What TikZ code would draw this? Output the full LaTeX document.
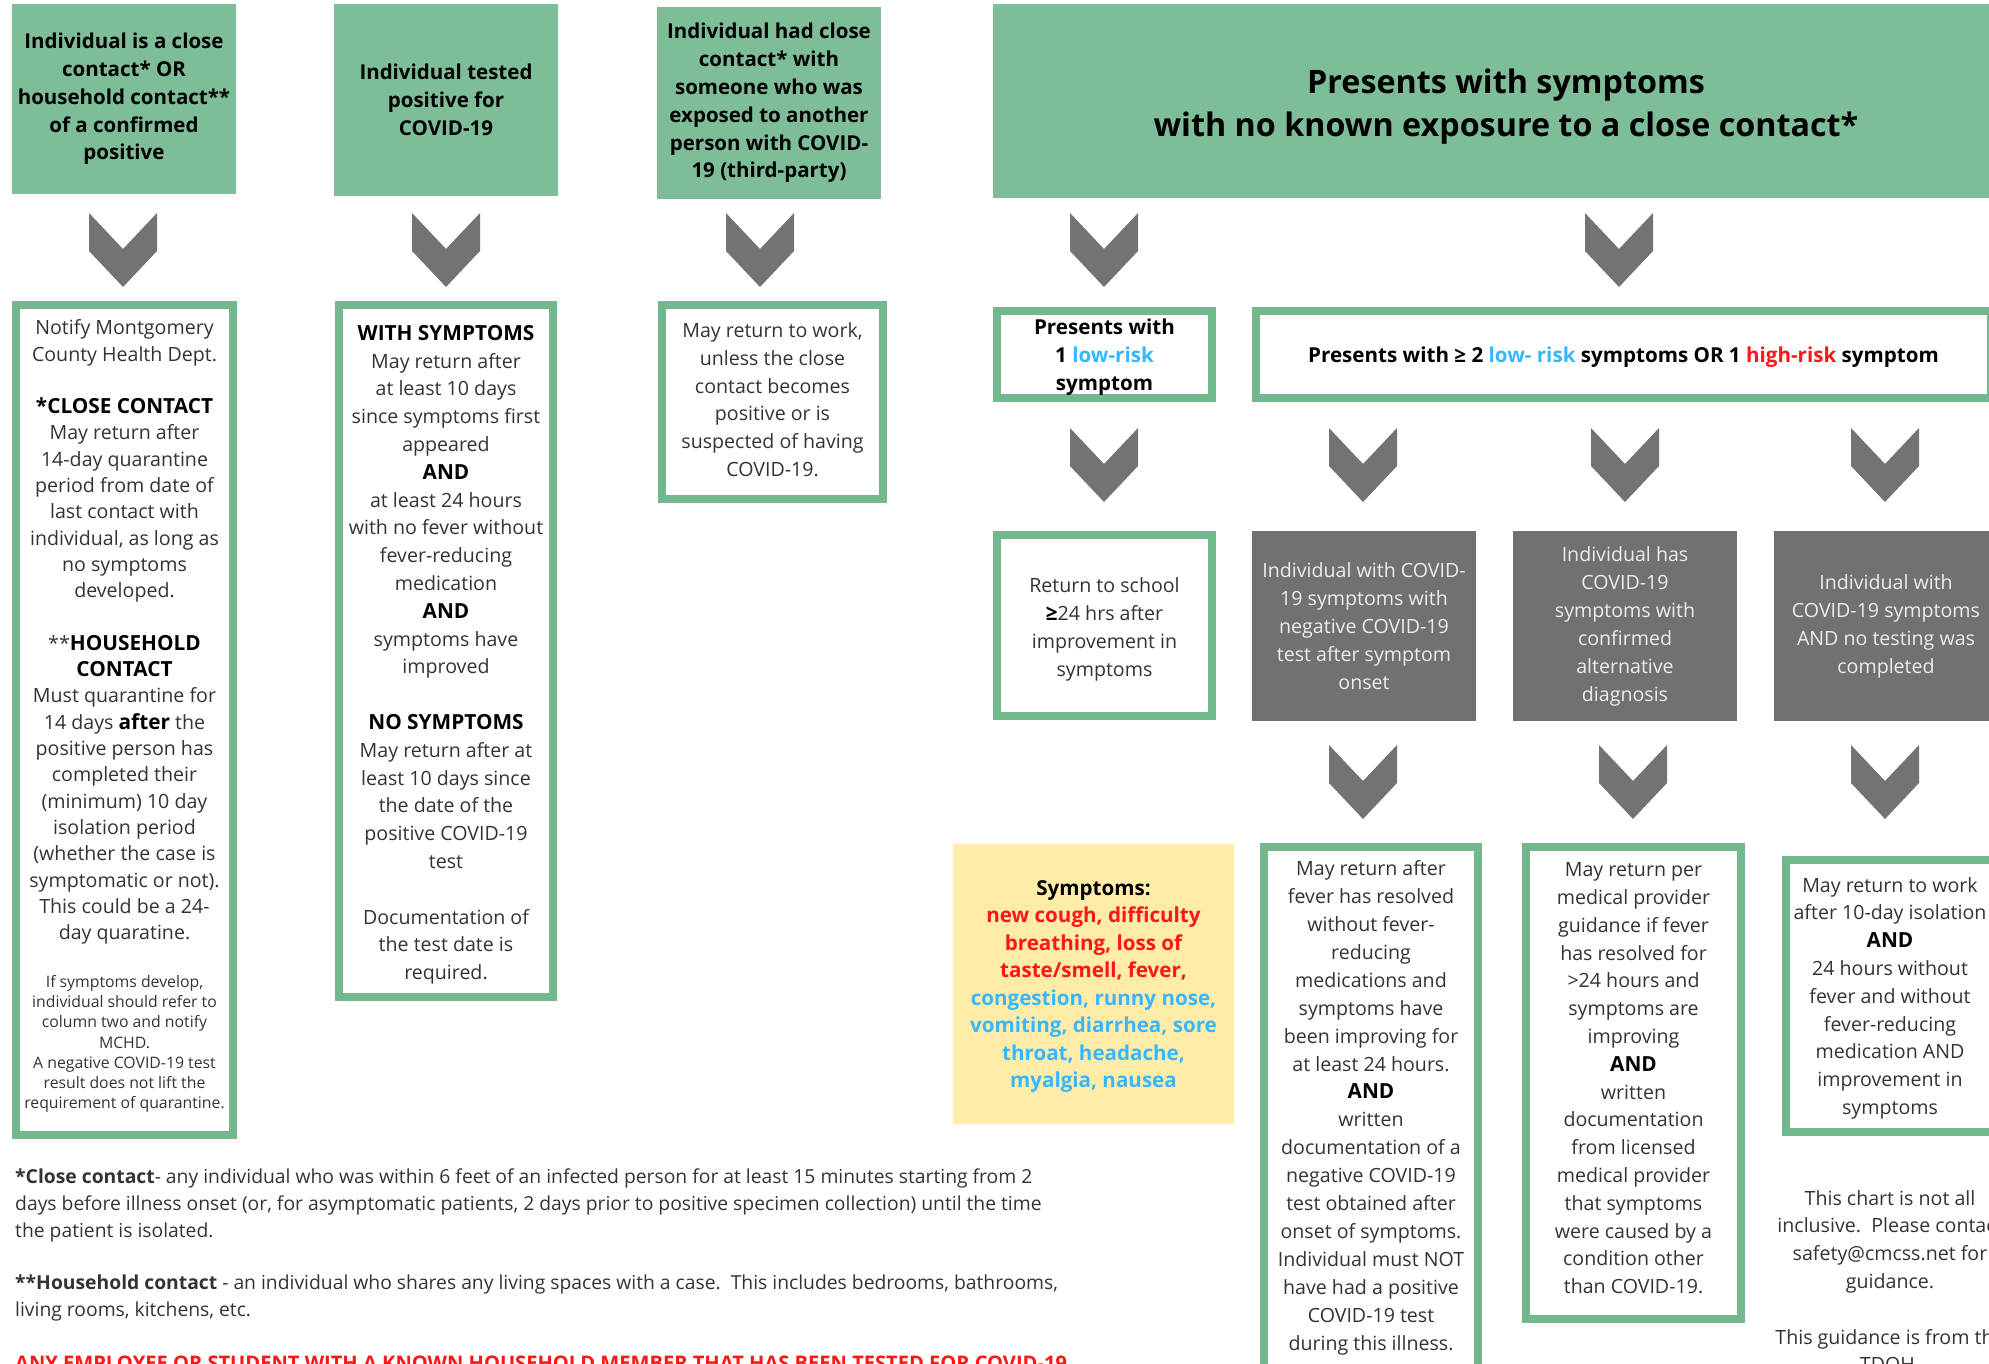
\documentclass[tikz,border=0pt]{standalone}
\usepackage{fontspec}
\setmainfont{Open Sans}
\definecolor{hdrgreen}{HTML}{7DBD98}
\definecolor{brdgreen}{HTML}{72B78D}
\definecolor{chevgrey}{HTML}{737373}
\definecolor{boxgrey}{HTML}{717171}
\definecolor{greytext}{HTML}{EDEDED}
\definecolor{symyellow}{HTML}{FFECA9}
\definecolor{lowblue}{HTML}{38B6FF}
\definecolor{highred}{HTML}{FF1616}
\definecolor{bodytext}{HTML}{333333}
\newcommand{\bx}[1]{{\fontsize{20.8}{27.8}\selectfont\bfseries\color{black}#1}}
\begin{document}
\begin{tikzpicture}[x=1pt,y=-1pt,
  hdr/.style={fill=hdrgreen, inner sep=0pt, align=center, text=black, font=\bfseries\fontsize{20.5}{27.8}\selectfont},
  gbox/.style={draw=brdgreen, line width=8pt, fill=white, inner sep=0pt},
  intext/.style={inner sep=0pt, align=center, text=bodytext, font=\fontsize{19.6}{28}\selectfont},
  boldtext/.style={inner sep=0pt, align=center, text=black, font=\bfseries\fontsize{20.6}{28}\selectfont},
  greybox/.style={fill=boxgrey, inner sep=0pt, align=center, text=greytext, font=\fontsize{19.6}{28}\selectfont, minimum width=224pt, minimum height=190pt},
  body/.style={inner sep=0pt, align=center, anchor=north, text=bodytext, font=\fontsize{19.6}{27.8}\selectfont},
  foot/.style={inner sep=0pt, align=left, anchor=north west, text=bodytext, font=\fontsize{19.3}{27}\selectfont},
  chev/.pic={\fill[chevgrey] (-34,0) -- (0,36) -- (34,0) -- (34,38) -- (0,74) -- (-34,38) -- cycle;}
]
\useasboundingbox (0,0) rectangle (1989,1364);
\clip (0,0) rectangle (1989,1364);
\fill[white] (0,0) rectangle (1989,1364);

% ---------- top green headers ----------
\node[hdr, minimum width=224pt, minimum height=190pt] (hA) at (124,99)
  {Individual is a close\\contact* OR\\household contact**\\of a confirmed\\positive};
\node[hdr, minimum width=224pt, minimum height=192pt] (hB) at (446,100)
  {Individual tested\\positive for\\COVID-19};
\node[hdr, minimum width=224pt, minimum height=192pt] (hC) at (769,103)
  {Individual had close\\contact* with\\someone who was\\exposed to another\\person with COVID-\\19 (third-party)};
\node[hdr, minimum width=1026pt, minimum height=194pt] (hD) at (1506,101) {};
\node[inner sep=0pt, align=center, text=black, font=\bfseries\fontsize{32.3}{43}\selectfont] (hDt) at (1506,106.5)
  {Presents with symptoms\\with no known exposure to a close contact*};

% ---------- chevrons ----------
\foreach \cx in {123,446,760,1104,1619} \pic at (\cx,213) {chev};
\foreach \cx in {1104,1363,1625,1885} \pic at (\cx,428) {chev};
\foreach \cx in {1363,1633,1885} \pic at (\cx,745) {chev};

% ---------- column A ----------
\node[gbox, minimum width=217pt, minimum height=830pt] (bA) at (124.5,720) {};
\node[body, font=\fontsize{19.6}{26.3}\selectfont] (tA) at (124.5,319.5)
  {Notify Montgomery\\County Health Dept.\\[26.3pt]\bx{*CLOSE CONTACT}\\May return after\\14-day quarantine\\period from date of\\last contact with\\individual, as long as\\no symptoms\\developed.\\[26.3pt]**\bx{HOUSEHOLD}\\\bx{CONTACT}\\Must quarantine for\\14 days \bx{after} the\\positive person has\\completed their\\(minimum) 10 day\\isolation period\\(whether the case is\\symptomatic or not).\\This could be a 24-\\day quaratine.};
\node[body, font=\fontsize{15.8}{20.1}\selectfont] (tAs) at (124.5,975.5)
  {If symptoms develop,\\individual should refer to\\column two and notify\\MCHD.\\A negative COVID-19 test\\result does not lift the\\requirement of quarantine.};

% ---------- column B ----------
\node[gbox, minimum width=214.6pt, minimum height=692pt] (bB) at (446,651) {};
\node[body] (tB) at (446,325)
  {\bx{WITH SYMPTOMS}\\May return after\\at least 10 days\\since symptoms first\\appeared\\\bx{AND}\\at least 24 hours\\with no fever without\\fever-reducing\\medication\\\bx{AND}\\symptoms have\\improved\\[27.8pt]\bx{NO SYMPTOMS}\\May return after at\\least 10 days since\\the date of the\\positive COVID-19\\test\\[27.8pt]Documentation of\\the test date is\\required.};

% ---------- column C ----------
\node[gbox, minimum width=221pt, minimum height=194pt] (bC) at (772.5,402) {};
\node[body] (tC) at (772.5,322.5)
  {May return to work,\\unless the close\\contact becomes\\positive or is\\suspected of having\\COVID-19.};

% ---------- column D ----------
\node[gbox, minimum width=215pt, minimum height=87pt] (lowrisk) at (1104.5,354.5) {};
\node[boldtext] (lowriskt) at (1104.5,357.5)
  {Presents with\\1 \textcolor{lowblue}{low-risk}\\symptom};
\node[gbox, minimum width=735pt, minimum height=87pt] (highrisk) at (1623.5,354.5) {};
\node[boldtext] (highriskt) at (1623.5,357.5)
  {Presents with ≥ 2 \textcolor{lowblue}{low- risk} symptoms OR 1 \textcolor{highred}{high-risk} symptom};
\node[gbox, minimum width=215pt, minimum height=181pt] (school) at (1104.5,625.5) {};
\node[intext] (schoolt) at (1104.5,629)
  {Return to school\\\bx{≥}24 hrs after\\improvement in\\symptoms};
\node[greybox] (g1) at (1364,626)
  {Individual with COVID-\\19 symptoms with\\negative COVID-19\\test after symptom\\onset};
\node[greybox] (g2) at (1625,626)
  {Individual has\\COVID-19\\symptoms with\\confirmed\\alternative\\diagnosis};
\node[greybox] (g3) at (1886,626)
  {Individual with\\COVID-19 symptoms\\AND no testing was\\completed};

% ---------- row 4 ----------
\node[fill=symyellow, inner sep=0pt, minimum width=281pt, minimum height=280.5pt] (symp) at (1093.5,984) {};
\node[boldtext, font=\bfseries\fontsize{20.6}{27.5}\selectfont] (sympt) at (1093.5,986.5)
  {Symptoms:\\\textcolor{highred}{new cough, difficulty}\\\textcolor{highred}{breathing, loss of}\\\textcolor{highred}{taste/smell, fever,}\\\textcolor{lowblue}{congestion, runny nose,}\\\textcolor{lowblue}{vomiting, diarrhea, sore}\\\textcolor{lowblue}{throat, headache,}\\\textcolor{lowblue}{myalgia, nausea}};

\node[gbox, minimum width=214pt, minimum height=524.5pt] (r1) at (1371,1108.75) {};
\node[body, font=\fontsize{19.6}{27.9}\selectfont] (r1t) at (1371,860.5)
  {May return after\\fever has resolved\\without fever-\\reducing\\medications and\\symptoms have\\been improving for\\at least 24 hours.\\\bx{AND}\\written\\documentation of a\\negative COVID-19\\test obtained after\\onset of symptoms.\\Individual must NOT\\have had a positive\\COVID-19 test\\during this illness.};

\node[gbox, minimum width=215pt, minimum height=472pt] (r2) at (1633.5,1082.5) {};
\node[body] (r2t) at (1633.5,862.5)
  {May return per\\medical provider\\guidance if fever\\has resolved for\\>24 hours and\\symptoms are\\improving\\\bx{AND}\\written\\documentation\\from licensed\\medical provider\\that symptoms\\were caused by a\\condition other\\than COVID-19.};

\node[gbox, minimum width=208pt, minimum height=272.5pt] (r3) at (1890,996) {};
\node[body] (r3t) at (1890,877)
  {May return to work\\after 10-day isolation\\\bx{AND}\\24 hours without\\fever and without\\fever-reducing\\medication AND\\improvement in\\symptoms};

\node[body] (note) at (1890,1190)
  {This chart is not all\\inclusive.\ \ Please contact\\safety@cmcss.net for\\guidance.\\[27.8pt]This guidance is from the\\TDOH.};

% ---------- footnotes ----------
\node[foot] (fn1) at (15,1169)
  {\textbf{*Close contact}- any individual who was within 6 feet of an infected person for at least 15 minutes starting from 2\\days before illness onset (or, for asymptomatic patients, 2 days prior to positive specimen collection) until the time\\the patient is isolated.};
\node[foot] (fn2) at (15,1275)
  {\textbf{**Household contact} - an individual who shares any living spaces with a case.\ \ This includes bedrooms, bathrooms,\\living rooms, kitchens, etc.};
\node[inner sep=0pt, anchor=north west, text=highred, font=\bfseries\fontsize{20.1}{24}\selectfont] (warn) at (15,1356)
  {ANY EMPLOYEE OR STUDENT WITH A KNOWN HOUSEHOLD MEMBER THAT HAS BEEN TESTED FOR COVID-19};
\end{tikzpicture}
\end{document}
